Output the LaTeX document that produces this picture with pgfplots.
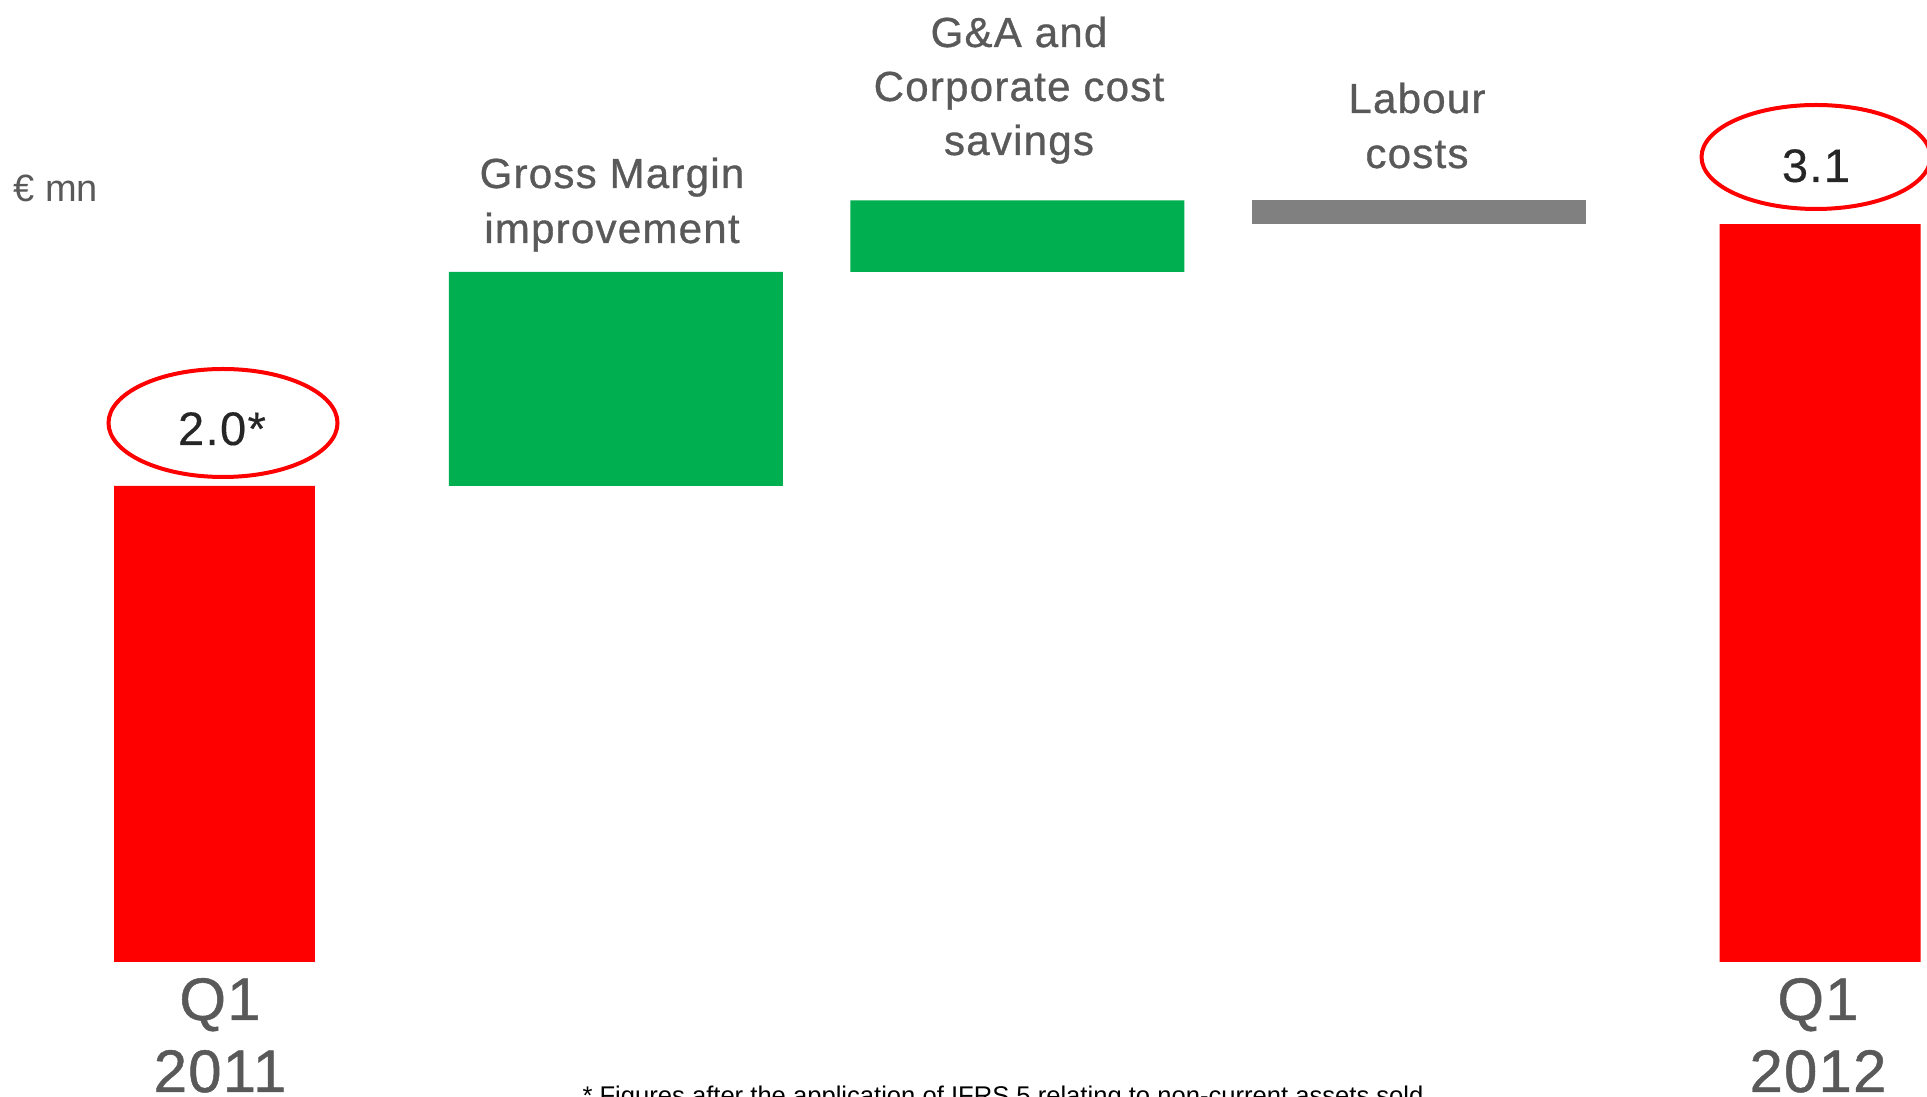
\documentclass[border=0pt]{standalone}
\usepackage{pgfplots}
\pgfplotsset{compat=1.18}
\usepackage{fontspec}
\setmainfont{Liberation Sans}
\newfontfamily\labfont[FakeBold=0.8, LetterSpace=3]{Liberation Sans}
\newfontfamily\qfont[FakeBold=0.8, LetterSpace=2]{Liberation Sans}
\newfontfamily\valfont[FakeBold=0.3, LetterSpace=3]{Liberation Sans}
\definecolor{barred}{HTML}{FF0000}
\definecolor{bargreen}{HTML}{00B050}
\definecolor{bargray}{HTML}{808080}
\definecolor{txtgray}{HTML}{595959}
\definecolor{valtxt}{HTML}{262626}
\begin{document}
\begin{tikzpicture}
\useasboundingbox (0,0) rectangle (963.5pt,548.5pt);
\clip (0,0) rectangle (963.5pt,548.5pt);
\begin{axis}[
  at={(0,0)}, anchor=south west,
  scale only axis, width=963.5pt, height=548.5pt,
  xmin=-0.53438, xmax=4.26632,
  ymin=-0.56723, ymax=4.04202,
  hide axis, clip=false,
  ybar stacked,
]
% invisible base of floating bars
\addplot[draw=none, fill=none, bar width=0.832] coordinates {(0,0) (1,2.0) (2,2.9) (3,3.1) (4,0)};
% totals
\addplot[draw=none, fill=barred, bar width=0.5007] coordinates {(0,2.0) (1,0) (2,0) (3,0) (4,3.1)};
% increases
\addplot[draw=none, fill=bargreen, bar width=0.832] coordinates {(0,0) (1,0.9) (2,0.3) (3,0) (4,0)};
% decrease
\addplot[draw=none, fill=bargray, bar width=0.832] coordinates {(0,0) (1,0) (2,0) (3,0.1) (4,0)};
\end{axis}
\begin{scope}[x=0.5pt, y=-0.5pt, yshift=548.5pt]
  \tikzset{cat/.style={anchor=base, inner sep=0pt, text=txtgray, font=\labfont\fontsize{21pt}{25pt}\selectfont},
           qlab/.style={anchor=base, inner sep=0pt, text=txtgray, font=\qfont\fontsize{30pt}{36pt}\selectfont},
           val/.style={anchor=base, inner sep=0pt, text=valtxt, font=\valfont\fontsize{23.5pt}{28pt}\selectfont}}
  % category labels
  \node[cat] at (612,188) {Gross Margin};
  \node[cat] at (612,243) {improvement};
  \node[cat] at (1019,47) {G\&A and};
  \node[cat] at (1019,101) {Corporate cost};
  \node[cat] at (1019,155) {savings};
  \node[cat] at (1417,113) {Labour};
  \node[cat] at (1417,168) {costs};
  % period labels
  \node[qlab] at (220,1020) {Q1};
  \node[qlab] at (220,1092) {2011};
  \node[qlab] at (1818,1020) {Q1};
  \node[qlab] at (1818,1092) {2012};
  % unit
  \node[anchor=base west, inner sep=0pt, text=txtgray, font=\fontsize{19pt}{23pt}\selectfont] at (13,202) {€ mn};
  % values with ellipses
  \draw[barred, line width=2pt] (223,423) ellipse [x radius=57.25pt, y radius=27pt];
  \node[val] at (222,445) {2.0*};
  \draw[barred, line width=2pt] (1816,157) ellipse [x radius=57.25pt, y radius=26pt];
  \node[val] at (1816,182) {3.1};
  % footnote
  \node[anchor=base, inner sep=0pt, text=black, font=\fontsize{12.8pt}{15pt}\selectfont] at (1003,1105) {* Figures after the application of IFRS 5 relating to non-current assets sold};
\end{scope}
\end{tikzpicture}
\end{document}
